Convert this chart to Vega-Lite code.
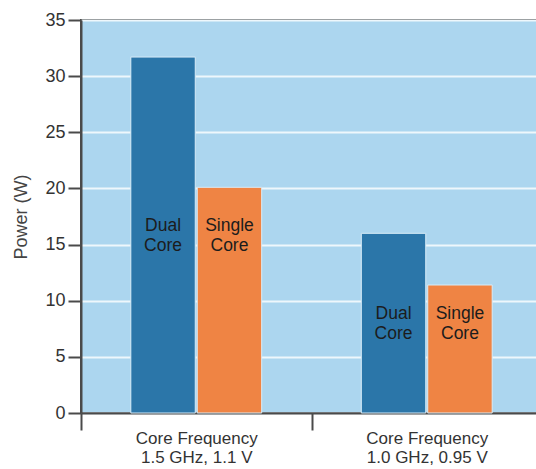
{
  "$schema": "https://vega.github.io/schema/vega-lite/v6.json",
  "autosize": "none",
  "padding": {"left": 81, "top": 20, "right": 0, "bottom": 56},
  "width": 461,
  "height": 393,
  "background": "white",
  "config": {
    "view": {"fill": "#acd6ef", "stroke": "#4a4a4a", "strokeWidth": 2},
    "font": "Liberation Sans"
  },
  "data": {
    "values": [
      {"freq": "1.5 GHz, 1.1 V", "core": "Dual Core", "power": 31.7},
      {"freq": "1.5 GHz, 1.1 V", "core": "Single Core", "power": 20.1},
      {"freq": "1.0 GHz, 0.95 V", "core": "Dual Core", "power": 16.0},
      {"freq": "1.0 GHz, 0.95 V", "core": "Single Core", "power": 11.4}
    ]
  },
  "transform": [
    {"joinaggregate": [{"op": "max", "field": "power", "as": "groupMax"}], "groupby": ["freq"]},
    {"calculate": "datum.groupMax / 2", "as": "labelPos"}
  ],
  "encoding": {
    "x": {
      "field": "freq",
      "type": "nominal",
      "sort": ["1.5 GHz, 1.1 V", "1.0 GHz, 0.95 V"],
      "scale": {"paddingInner": 0, "paddingOuter": 0},
      "axis": {
        "title": null,
        "labelAngle": 0,
        "labelExpr": "datum.value ? ['Core Frequency', datum.value] : ''",
        "labelFont": "Liberation Sans",
        "labelFontSize": 17,
        "labelLineHeight": 19,
        "labelColor": "#333333",
        "labelPadding": 0,
        "tickBand": "extent",
        "tickSize": 17,
        "tickColor": "#4a4a4a",
        "tickWidth": 2,
        "domainColor": "#4a4a4a",
        "domainWidth": 2
      }
    },
    "xOffset": {
      "field": "core",
      "type": "nominal",
      "scale": {"paddingInner": 0.03, "paddingOuter": 0.75}
    }
  },
  "layer": [
    {
      "mark": {"type": "bar", "stroke": "#d8ecf8", "strokeWidth": 1},
      "encoding": {
        "y": {
          "field": "power",
          "type": "quantitative",
          "scale": {"domain": [0, 35], "nice": false},
          "axis": {
            "title": "Power (W)",
            "titleFont": "Liberation Sans",
            "titleFontSize": 18,
            "titleFontWeight": "normal",
            "titleColor": "#444444",
            "titlePadding": 14,
            "values": [0, 5, 10, 15, 20, 25, 30, 35],
            "labelFont": "Liberation Sans",
            "labelFontSize": 18,
            "labelColor": "#333333",
            "labelPadding": 3,
            "tickSize": 13,
            "tickColor": "#4a4a4a",
            "tickWidth": 2,
            "domainColor": "#4a4a4a",
            "domainWidth": 2,
            "grid": true,
            "gridColor": "#eef7fc",
            "gridWidth": 2
          }
        },
        "color": {
          "field": "core",
          "type": "nominal",
          "scale": {"domain": ["Dual Core", "Single Core"], "range": ["#2b76a9", "#ef8444"]},
          "legend": null
        }
      }
    },
    {
      "mark": {"type": "text", "lineBreak": " ", "fontSize": 17.5, "lineHeight": 20, "baseline": "middle", "align": "center", "dy": -9, "color": "#1c1c1c", "font": "Liberation Sans"},
      "encoding": {
        "y": {"field": "labelPos", "type": "quantitative"},
        "text": {"field": "core", "type": "nominal"}
      }
    }
  ]
}
